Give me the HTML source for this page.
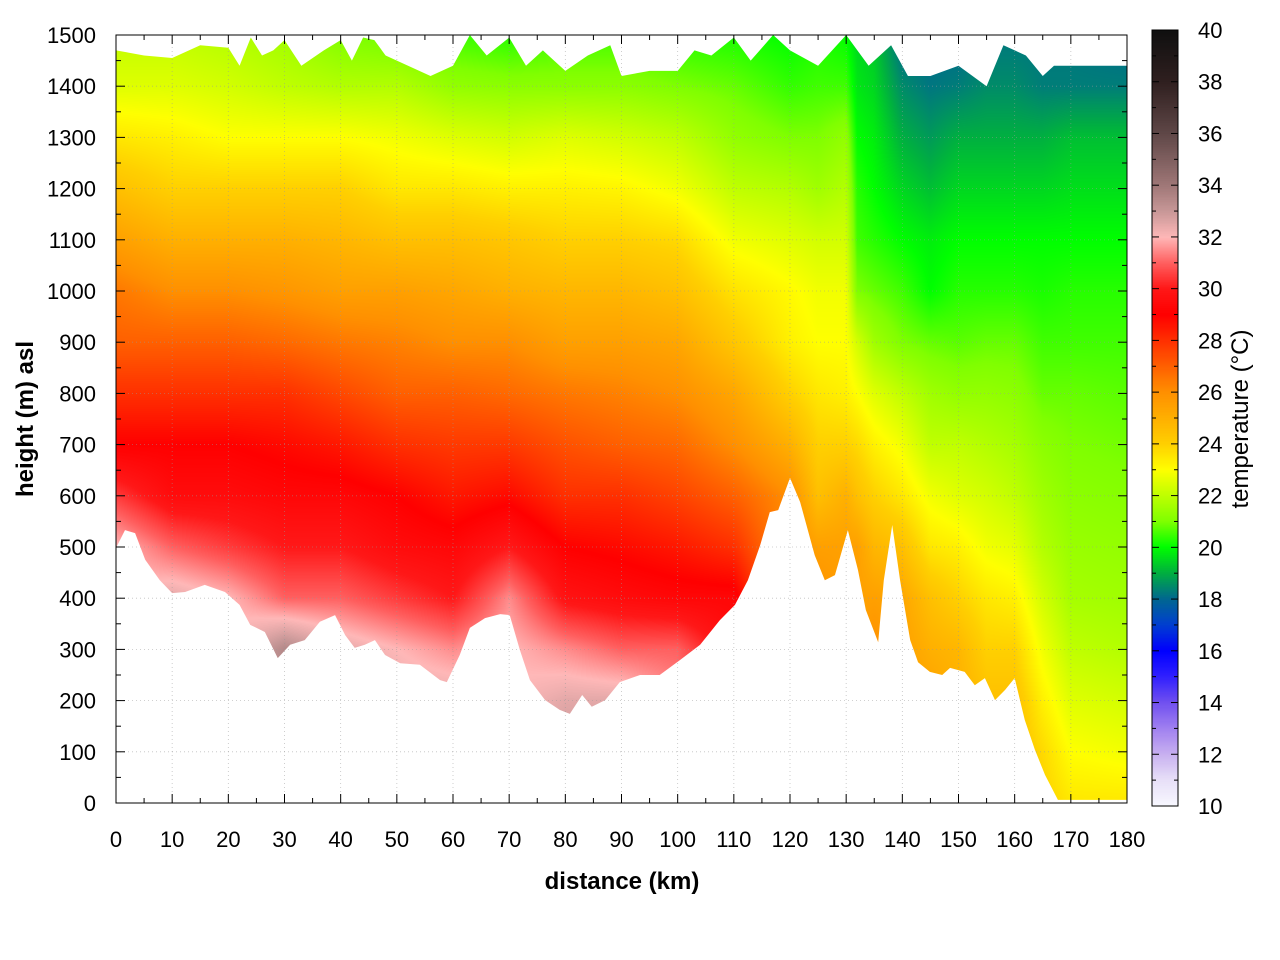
<!DOCTYPE html>
<html><head><meta charset="utf-8"><style>
body{margin:0;background:#fff;width:1280px;height:960px;overflow:hidden;position:relative;font-family:"Liberation Sans",sans-serif}
canvas{position:absolute}
svg{position:absolute;left:0;top:0}
</style></head><body>
<canvas id="heat" width="1011" height="768" style="left:116px;top:35px"></canvas>
<canvas id="cbar" width="26" height="776" style="left:1152px;top:30px"></canvas>
<svg id="svg" width="1280" height="960"></svg>
<script>
const dist=[0,10,20,30,40,50,60,70,80,90,100,110,120,125,130,132,135,140,145,150,155,160,165,170,180];
// rows: heights 0,100,...,1500
const temps=[
[32,32,32,32,32,32,30.5,29,28,27,26.5,25.5,24.5,23.5,22.5,22],
[32.5,32.5,32.5,32.5,32.5,31,29.5,29,28,27,26,25,24,23.3,22.5,22],
[32,32,32,32,32,30.5,29.5,29,28,27,26,25,24,23,22.3,21.8],
[33.5,33.5,33.5,33.5,31,30,29.3,28.8,28,26.8,25.8,25,24,23,22,21.5],
[32.5,32.5,32.5,32.5,31,30,29.3,28.5,27.5,26.5,25.5,24.8,24,23,21.8,21],
[32.5,32.5,32.5,32,30.5,29.5,29,28,27,26.3,25.5,24.5,23.5,22.8,21.8,20.8],
[32.5,32.5,32.5,31.5,30,29.3,28.5,27.8,27,26,25.3,24.5,23.5,22.5,21.3,20.5],
[32,32,32,32,31.5,30,28.8,27.8,26.8,26,25,24.3,23.3,22.3,21.2,20.3],
[33,33,32.5,31.5,29.8,29,28,27.3,26.5,25.5,24.8,24,23.3,22.5,21.2,20.5],
[32.5,32.5,32.5,31,29.5,28.8,28,27,26.3,25.5,24.8,24,23.2,22.3,21.2,20.5],
[31.5,31.5,31.5,31,29.3,28.5,27.6,26.8,26,25.3,24.5,23.8,22.8,22,21,20.3],
[29.5,29.5,29.5,29.5,29.3,28,27,26,25.3,24.3,23.6,22.8,22,21.3,20.8,20.2],
[26,26,26,26,26,26,26,25,24,23.3,23.1,22.5,21.8,21,20.4,20],
[26,26,26,26,26,25.5,24.5,24,23.5,23,22.8,22.3,21.5,21,20.5,20.2],
[25.5,25.5,25.5,25.5,25.5,25.5,25,24,23.3,23,22.8,22.3,21.8,21.3,20.5,20],
[25.5,25.5,25.5,25.5,25.5,25.5,24.5,23.8,23,22.3,21,20.5,20.3,20,19.7,19.5],
[26,26,26,26,25.5,24.8,24,23.3,22.5,21.5,20.8,20.3,20,19.8,19.5,19.3],
[25.5,25.5,25.5,25.5,25.3,24.5,23.5,22.8,22,21,20.5,20,19.5,19,18.5,18],
[25.5,25.5,25.5,25,24.5,23.5,22.8,22,21.5,20.8,20,19.8,19.2,18.7,18.2,18],
[25,25,25,24.8,24,23.3,22.5,22,21.3,20.7,20.3,20,19.5,19,18.3,18],
[24.5,24.5,24.5,24,23.5,22.8,22.3,21.8,21.3,20.8,20.3,20,19.5,19,18.5,18.2],
[24.5,24.5,24.5,24,23.3,22.6,22,21.6,21.2,20.8,20.3,20,19.5,19,18.5,18.2],
[24,23.8,23.3,22.8,22.3,21.8,21.5,21.2,20.8,20.5,20.2,20,19.5,19,18.3,18.2],
[23.5,23,22.5,22,21.6,21.4,21.2,21,20.8,20.5,20.3,20,19.6,19.2,18.3,18.2],
[23.5,22.8,22.3,21.8,21.5,21.3,21.1,20.9,20.7,20.5,20.3,20,19.6,19.2,18.3,18]
];
const groundKm=[0,1.6,3.4,5.2,7.8,10,12.3,15.8,19.4,22,23.9,26.5,28.8,31,33.6,36.3,39,40.8,42.5,44.3,46.1,47.9,50.6,54.1,57.7,58.9,61.2,63,65.7,68.4,70.1,71.9,73.7,76.4,79,80.8,83,84.7,87.1,89.7,93.3,96.8,100.4,104,107.5,110.2,112.5,114.7,116.4,117.9,120,121.8,124.4,126.2,128,130.3,132.1,133.5,135.7,136.7,138.2,139.6,141.4,142.8,144.9,147.1,148.5,151.1,152.9,154.7,156.5,158.3,160,161.8,163.6,165.4,167.7,180];
const groundM=[498,533,527,475,435,410,412,426,412,387,348,334,283,309,318,354,367,328,303,309,318,289,273,270,240,236,289,342,361,369,367,299,240,201,182,174,211,188,201,236,250,250,279,309,357,387,435,504,568,572,635,588,484,435,445,533,455,377,314,435,543,435,318,275,256,250,264,256,230,244,201,221,244,162,104,55,6,6];
const topKm=[0,5,10,15,20,22,24,26,28,30,33,37,40,42,44,46,48,52,56,60,63,66,70,73,76,80,84,88,90,95,100,103,106,110,113,117,120,125,130,134,138,141,145,150,155,158,162,165,167,180];
const topM=[1470,1460,1455,1480,1475,1440,1495,1460,1470,1490,1440,1470,1490,1450,1495,1490,1460,1440,1420,1440,1500,1460,1495,1440,1470,1430,1460,1480,1420,1430,1430,1470,1460,1495,1450,1500,1470,1440,1500,1440,1480,1420,1420,1440,1400,1480,1460,1420,1440,1440];
const cStops=[10,11,12,13,14,15,16,17,18,19,20,21,22,23,24,25,26,27,28,29,30,31,32,33,34,36,38,40];
const cCols=['#f8f8ff','#e8e0f8','#c8b0f0','#a080f0','#7050f0','#3020ff','#0000ff','#0040d0','#006890','#00b040','#00ff00','#80ff00','#c0ff00','#ffff00','#ffd000','#ffb000','#ff9000','#ff6000','#ff3000','#ff0000','#ff1818','#ff6060','#ffb8b8','#c89898','#a07878','#604848','#302020','#101010'];
const xTicks=[0,10,20,30,40,50,60,70,80,90,100,110,120,130,140,150,160,170,180];
const yTicks=[0,100,200,300,400,500,600,700,800,900,1000,1100,1200,1300,1400,1500];
const cTicks=[10,12,14,16,18,20,22,24,26,28,30,32,34,36,38,40];

const X0=116,X1=1127,Y0=803,Y1=35;
const sx=k=>X0+(k/180)*(X1-X0);
const sy=m=>Y0-(m/1500)*(Y0-Y1);
const cY=t=>806-(t-10)/30*776;
function hex(c){return [parseInt(c.slice(1,3),16),parseInt(c.slice(3,5),16),parseInt(c.slice(5,7),16)];}
const cRGB=cCols.map(hex);
function cmap(t){
  if(t<=cStops[0])return cRGB[0];
  for(let i=0;i<cStops.length-1;i++){if(t<=cStops[i+1]){const f=(t-cStops[i])/(cStops[i+1]-cStops[i]);const a=cRGB[i],b=cRGB[i+1];return [a[0]+(b[0]-a[0])*f,a[1]+(b[1]-a[1])*f,a[2]+(b[2]-a[2])*f];}}
  return cRGB[cRGB.length-1];
}
function val(k,m){
  let i=0;while(i<dist.length-2&&k>dist[i+1])i++;
  const fx=Math.max(0,Math.min(1,(k-dist[i])/(dist[i+1]-dist[i])));
  let r=Math.min(14,Math.floor(m/100));const fy=Math.max(0,Math.min(1,(m-r*100)/100));
  const a=temps[i][r]*(1-fy)+temps[i][r+1]*fy, b=temps[i+1][r]*(1-fy)+temps[i+1][r+1]*fy;
  return a*(1-fx)+b*fx;
}
const hc=document.getElementById('heat').getContext('2d');
const W=1011,H=768,img=hc.createImageData(W,H);
for(let px=0;px<W;px++){const k=px/(W-1)*180;
 for(let py=0;py<H;py++){const m=(H-1-py)/(H-1)*1500;const c=cmap(val(k,m));const o=(py*W+px)*4;
  img.data[o]=c[0];img.data[o+1]=c[1];img.data[o+2]=c[2];img.data[o+3]=255;}}
hc.putImageData(img,0,0);
const cc=document.getElementById('cbar').getContext('2d');
for(let py=0;py<776;py++){const t=40-py/775*30;const c=cmap(t);cc.fillStyle=`rgb(${c[0]|0},${c[1]|0},${c[2]|0})`;cc.fillRect(0,py,26,1);}

const NS='http://www.w3.org/2000/svg',svg=document.getElementById('svg');
function el(tag,attrs,parent){const e=document.createElementNS(NS,tag);for(const a in attrs)e.setAttribute(a,attrs[a]);(parent||svg).appendChild(e);return e;}
let gp=groundKm.map((k,i)=>sx(k)+','+sy(groundM[i])).join(' ')+` ${X1},${Y0} ${X0},${Y0}`;
const g1=el('polygon',{points:gp,fill:'#fff'});


let tp=topKm.map((k,i)=>sx(k)+','+sy(topM[i])).join(' ')+` ${X1},${Y1} ${X0},${Y1}`;
const t1=el('polygon',{points:tp,fill:'#fff'});


xTicks.forEach(t=>{const l=el('line',{x1:sx(t),x2:sx(t),y1:Y1,y2:Y0,stroke:'#999','stroke-width':0.8,'stroke-dasharray':'1,3',opacity:0.6});

});
yTicks.forEach(t=>{const l=el('line',{x1:X0,x2:X1,y1:sy(t),y2:sy(t),stroke:'#999','stroke-width':0.8,'stroke-dasharray':'1,3',opacity:0.6});

});
const fr=el('rect',{x:X0,y:Y1,width:X1-X0,height:Y0-Y1,fill:'none',stroke:'#000','stroke-width':1});


for(let t=0;t<=180;t+=5){const L=t%10?5:9;el('line',{x1:sx(t),x2:sx(t),y1:Y0,y2:Y0-L,stroke:'#000'});el('line',{x1:sx(t),x2:sx(t),y1:Y1,y2:Y1+L,stroke:'#000'});}
for(let t=0;t<=1500;t+=50){const L=t%100?5:9;el('line',{x1:X0,x2:X0+L,y1:sy(t),y2:sy(t),stroke:'#000'});el('line',{x1:X1,x2:X1-L,y1:sy(t),y2:sy(t),stroke:'#000'});}
xTicks.forEach(t=>{const e=el('text',{x:sx(t),y:847,'text-anchor':'middle','font-size':22});e.textContent=t;

});
yTicks.forEach(t=>{const e=el('text',{x:96,y:sy(t)+8,'text-anchor':'end','font-size':22});e.textContent=t;

});
const cf=el('rect',{x:1152,y:30,width:26,height:776,fill:'none',stroke:'#000','stroke-width':1});


for(let t=10;t<=40;t+=1){const L=t%2?4:7;el('line',{x1:1152,x2:1152+L,y1:cY(t),y2:cY(t),stroke:'#000'});el('line',{x1:1178,x2:1178-L,y1:cY(t),y2:cY(t),stroke:'#000'});}
cTicks.forEach(t=>{const e=el('text',{x:1198,y:cY(t)+8,'font-size':22});e.textContent=t;

});
</script>
<svg width="1280" height="960" style="pointer-events:none">
<text x="622" y="889" text-anchor="middle" font-size="24" font-weight="bold" font-family="Liberation Sans, sans-serif">distance (km)</text>
<text transform="translate(33,419) rotate(-90)" text-anchor="middle" font-size="24" font-weight="bold" font-family="Liberation Sans, sans-serif">height (m) asl</text>
<text transform="translate(1248,419) rotate(-90)" text-anchor="middle" font-size="24" font-family="Liberation Sans, sans-serif">temperature (°C)</text>
</svg>
</body></html>
